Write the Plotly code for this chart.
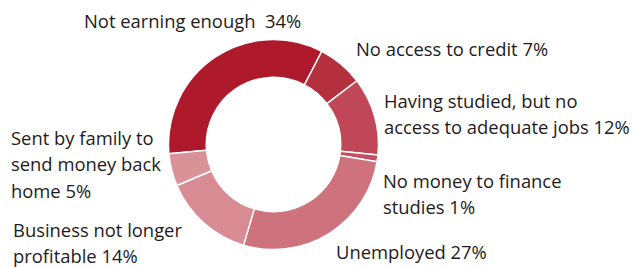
import plotly.graph_objects as go

categories = ["Not earning enough", "No access to credit", "Having studied, but no access to adequate jobs",
              "No money to finance studies", "Unemployed", "Business not longer profitable",
              "Sent by family to send money back home"]
values = [34, 7, 12, 1, 27, 14, 5]
colors = ["#AE1A2B", "#B5303E", "#C04757", "#C4505F", "#CE737D", "#D88B92", "#DA9299"]

# label lines (text split into display lines); the last line carries the percentage
label_lines = [
    ["Not earning enough  {v}%"],
    ["No access to credit {v}%"],
    ["Having studied, but no", "access to adequate jobs {v}%"],
    ["No money to finance", "studies {v}%"],
    ["Unemployed {v}%"],
    ["Business not longer", "profitable {v}%"],
    ["Sent by family to", "send money back", "home {v}%"],
]
# label anchor (left x px, first-line center y px), line spacing px
label_pos = [(82, 21), (354, 48), (382, 100), (381, 180), (334, 251), (11, 229), (9, 137)]
line_gap = 26.5

W, H = 632, 267
cx, cy, r = 273.5, 144.5, 105

fig = go.Figure(go.Pie(
    labels=categories, values=values, sort=False, direction="clockwise", rotation=265,
    hole=0.64, marker=dict(colors=colors, line=dict(color="white", width=1.5)),
    textinfo="none", hoverinfo="label+percent", showlegend=False,
    domain=dict(x=[(cx - r) / W, (cx + r) / W], y=[(H - cy - r) / H, (H - cy + r) / H]),
))

annotations = []
for lines, v, (x, y) in zip(label_lines, values, label_pos):
    for i, ln in enumerate(lines):
        annotations.append(dict(
            text=ln.format(v=v), x=x / W, y=1 - (y + i * line_gap) / H, xref="paper", yref="paper",
            xanchor="left", yanchor="middle", showarrow=False, align="left",
            font=dict(family="Open Sans", size=18.4, color="#1E1B1C"),
        ))

fig.update_layout(width=W, height=H, margin=dict(l=0, r=0, t=0, b=0),
                  paper_bgcolor="white", plot_bgcolor="white", annotations=annotations)
fig.write_html("out.html", config={"displayModeBar": False},
               post_script="document.body.style.margin='0';")
